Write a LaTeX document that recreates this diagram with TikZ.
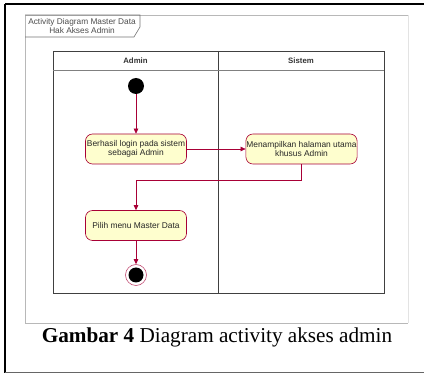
\documentclass[tikz,border=0pt]{standalone}
\usepackage{fontspec}
\setmainfont{Liberation Serif}
\newfontfamily\diagfont{Liberation Sans}
\usetikzlibrary{arrows.meta}
\definecolor{umlred}{HTML}{A80036}
\definecolor{umlfill}{HTML}{FEFECE}
\definecolor{framegray}{HTML}{B8B8B8}
\tikzset{
  action/.style={draw=umlred, fill=umlfill, rounded corners=7pt, line width=0.6pt,
    minimum width=101pt, minimum height=30pt, align=center, inner sep=0.5pt,
    font=\diagfont\fontsize{8.4}{9.6}\selectfont, text=black!85},
  flow/.style={draw=umlred, line width=0.6pt, -{Triangle[length=5pt,width=4.5pt]}},
  lane/.style={draw=black!75, line width=0.7pt},
  lanehead/.style={font=\diagfont\bfseries\fontsize{7.8}{9}\selectfont, text=black!80},
}
\begin{document}
\begin{tikzpicture}[x=1pt,y=-1pt]
\useasboundingbox (0,0) rectangle (424,377);
% page frame
\draw[black, line width=1.6pt] (5,4) -- (424,4);
\draw[black, line width=1.4pt] (5,4) -- (5,373);
\draw[black!60, line width=1pt] (5,373) -- (424,373);
% diagram frame
\draw[framegray, line width=0.9pt] (408,15) -- (25,15) -- (25,323) -- (408,323);
\draw[framegray!40, line width=0.5pt] (408,15) -- (408,323);
% title tab
\draw[black!55, line width=0.6pt] (25,15) -- (140,15) -- (140,27) -- (134,37) -- (25,37);
\node[font=\diagfont\fontsize{8.3}{9}\selectfont, text=black!70, align=center, inner sep=0pt]
  (title) at (82,26) {Activity Diagram Master Data\\Hak Akses Admin};
% swimlanes
\draw[lane] (53,51) rectangle (384,293);
\draw[lane] (218,51) -- (218,293);
\draw[black!50, line width=0.6pt] (53,70) -- (384,70);
\node[lanehead] (hadmin) at (135.5,61) {Admin};
\node[lanehead] (hsistem) at (301,61) {Sistem};
% nodes
\node[circle, fill=black, minimum size=16pt, inner sep=0pt] (start) at (136,86) {};
\node[action] (a1) at (136,149) {Berhasil login pada sistem\\sebagai Admin};
\node[action, minimum width=111pt] (a2) at (301.5,149) {Menampilkan halaman utama\\khusus Admin};
\node[action] (a3) at (136,225.5) {Pilih menu Master Data};
\node[circle, draw=umlred!70, line width=0.6pt, fill=white, minimum size=21pt, inner sep=0pt] (stop) at (136,275) {};
\node[circle, fill=black, minimum size=15pt, inner sep=0pt] (stopin) at (stop.center) {};
% flows
\draw[flow] (start) -- (a1);
\draw[flow] (a1) -- (a2);
\draw[flow] (a2.south) -- ++(0,16) -| (a3.north);
\draw[flow] (a3) -- (stop);
% caption
\node[font=\fontsize{21.2}{24}\selectfont] (caption) at (217,337)
  {\textbf{Gambar 4} Diagram activity akses admin};
\end{tikzpicture}
\end{document}
